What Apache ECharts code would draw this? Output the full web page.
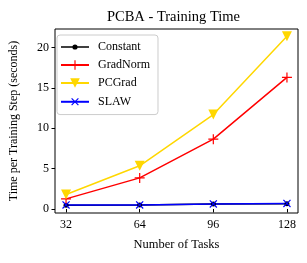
<!DOCTYPE html>
<html><head><meta charset="utf-8">
<script src="https://cdn.jsdelivr.net/npm/echarts@6/dist/echarts.min.js"></script>
<style>html,body{margin:0;padding:0;background:#fff}#c{width:307px;height:263px}</style>
</head><body><div id="c"></div>
<script>
const tasks = [32, 64, 96, 128];
const constant = [0.45, 0.5, 0.6, 0.65];
const gradNorm = [1.25, 3.85, 8.65, 16.3];
const pcGrad = [1.8, 5.35, 11.7, 21.4];
const slaw = [0.5, 0.5, 0.62, 0.68];
const yTicks = [0, 5, 10, 15, 20];

const F = 'Liberation Serif';
const plus = 'path://M4.4,0H5.6V4.4H10V5.6H5.6V10H4.4V5.6H0V4.4H4.4Z';
const constIcon = 'path://M0,0L0.01,0L0,0.01Z M0,12L0.01,12L0,11.99Z M0,5.3H28V6.7H0Z M11.4,6a2.6,2.6 0 1,1 5.2,0a2.6,2.6 0 1,1 -5.2,0Z';
function pts(v){ return tasks.map((t,i)=>[t, v[i]]); }
function s(name, data, color, symbol, size, rot){
  return {name, type:'line', data: pts(data), symbol, symbolSize: size, symbolRotate: rot||0,
    showAllSymbol:true, lineStyle:{color, width:1.5}, itemStyle:{color}, animation:false};
}
const chart = echarts.init(document.getElementById('c'));
chart.setOption({
  animation:false,
  title:{text:'PCBA - Training Time', left:168.5, textAlign:'center', top:5,
    textStyle:{fontFamily:F, fontSize:14.5, fontWeight:'normal', color:'#000'}},
  grid:{left:50, right:9, top:29, bottom:50, show:true, borderColor:'#000', borderWidth:1, backgroundColor:'transparent'},
  legend:{left:57, top:35, orient:'vertical', itemWidth:28, itemHeight:12, itemGap:6,
    padding:[6,8,6,3], borderColor:'#ccc', borderWidth:1, borderRadius:3, backgroundColor:'#fff',
    textStyle:{fontFamily:F, fontSize:12, color:'#000', padding:[0,0,0,4]},
    data:[{name:'Constant', icon: constIcon},'GradNorm','PCGrad','SLAW']},
  xAxis:{type:'value', min:27.2, max:132.8,
    name:'Number of Tasks', nameLocation:'middle', nameGap:25,
    nameTextStyle:{fontFamily:F, fontSize:12.5, color:'#000'},
    axisLine:{show:false}, splitLine:{show:false},
    axisTick:{show:true, inside:false, length:3.5, lineStyle:{color:'#000'}, customValues:tasks},
    axisLabel:{fontFamily:F, fontSize:12, color:'#000', margin:6, customValues:tasks}},
  yAxis:{type:'value', min:-0.5, max:22.3,
    name:'Time per Training Step (seconds)', nameLocation:'middle', nameGap:35,
    nameTextStyle:{fontFamily:F, fontSize:12, color:'#000'},
    axisLine:{show:false}, splitLine:{show:false},
    axisTick:{show:true, inside:false, length:3.5, lineStyle:{color:'#000'}, customValues:yTicks},
    axisLabel:{fontFamily:F, fontSize:12, color:'#000', margin:6, customValues:yTicks}},
  series:[
    s('Constant', constant, '#000000', 'circle', 5),
    s('GradNorm', gradNorm, '#ff0000', plus, 10),
    s('PCGrad', pcGrad, '#ffd700', 'triangle', 10, 180),
    s('SLAW', slaw, '#0000ff', plus, 10, 45)
  ]
});
</script></body></html>
